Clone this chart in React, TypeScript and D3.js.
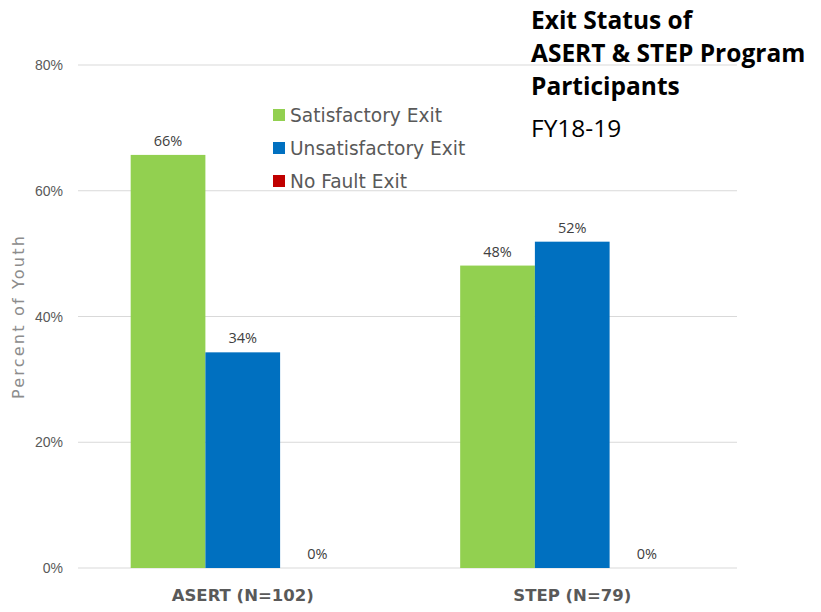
import React from "react";
import * as d3 from "d3";

const categories = ["ASERT (N=102)", "STEP (N=79)"];
const seriesNames = ["Satisfactory Exit", "Unsatisfactory Exit", "No Fault Exit"];
const satisfactory = [0.657, 0.481];
const unsatisfactory = [0.343, 0.519];
const noFault = [0, 0];
const seriesColors = ["#92D050", "#0070C0", "#C00000"];
const yTicks = [0, 0.2, 0.4, 0.6, 0.8];

const W = 821;
const H = 612;
const plot = { left: 78, right: 737, top: 65, bottom: 568 };
const labelFont = "'Open Sans', 'DejaVu Sans', sans-serif";
const wideFont = "'DejaVu Sans', sans-serif";

export default function App() {
  const series = [satisfactory, unsatisfactory, noFault];
  const y = d3.scaleLinear().domain([0, 0.8]).range([plot.bottom, plot.top]);
  const x0 = d3.scaleBand<string>().domain(categories).range([plot.left, plot.right]).padding(0);
  const x1 = d3
    .scaleBand<string>()
    .domain(seriesNames)
    .range([0, x0.bandwidth()])
    .paddingInner(0)
    .paddingOuter(0.705);
  const fmt = d3.format(".0%");

  return (
    <svg
      width={W}
      height={H}
      style={{ position: "absolute", left: 0, top: 0, background: "#fff" }}
    >
      {/* gridlines */}
      {yTicks.map((t) => (
        <line
          key={t}
          x1={plot.left}
          x2={plot.right}
          y1={y(t)}
          y2={y(t)}
          stroke="#d9d9d9"
          strokeWidth={1}
        />
      ))}
      {/* y tick labels */}
      {yTicks.map((t) => (
        <text
          key={"l" + t}
          x={63}
          y={y(t) + 5}
          textAnchor="end"
          fontFamily="'Liberation Sans', Arial, sans-serif"
          fontSize={14}
          fill="#595959"
        >
          {fmt(t)}
        </text>
      ))}
      {/* axis title */}
      <text
        transform={`translate(24,${(plot.top + plot.bottom) / 2}) rotate(-90)`}
        textAnchor="middle"
        fontFamily={wideFont}
        fontSize={16}
        letterSpacing={2.2}
        fill="#8c8c8c"
      >
        Percent of Youth
      </text>
      {/* bars */}
      {categories.map((c, ci) => (
        <g key={c} transform={`translate(${x0(c)},0)`}>
          {seriesNames.map((s, si) => {
            const v = series[si][ci];
            const bx = x1(s)!;
            return (
              <g key={s}>
                <rect
                  x={bx}
                  y={y(v)}
                  width={x1.bandwidth()}
                  height={plot.bottom - y(v)}
                  fill={seriesColors[si]}
                />
                <text
                  x={bx + x1.bandwidth() / 2}
                  y={y(v) - 9}
                  textAnchor="middle"
                  fontFamily={labelFont}
                  fontSize={14.5}
                  fill="#404040"
                >
                  {fmt(v)}
                </text>
              </g>
            );
          })}
        </g>
      ))}
      {/* category labels */}
      {categories.map((c) => (
        <text
          key={"c" + c}
          x={x0(c)! + x0.bandwidth() / 2}
          y={601}
          textAnchor="middle"
          fontFamily={wideFont}
          fontWeight="bold"
          fontSize={16.5}
          fill="#595959"
        >
          {c}
        </text>
      ))}
      {/* legend */}
      {seriesNames.map((s, i) => (
        <g key={"lg" + s} transform={`translate(273,${115 + i * 33})`}>
          <rect x={0} y={-6} width={12} height={12} fill={seriesColors[i]} />
          <text x={17} y={7} fontFamily={wideFont} fontSize={18.6} fill="#595959">
            {s}
          </text>
        </g>
      ))}
      {/* title */}
      <g fontFamily={labelFont} fill="#000">
        <text x={531} y={29} fontSize={24.5} fontWeight="bold">Exit Status of</text>
        <text x={531} y={62} fontSize={24.5} fontWeight="bold">ASERT &amp; STEP Program</text>
        <text x={531} y={95} fontSize={24.5} fontWeight="bold">Participants</text>
        <text x={531} y={137} fontSize={24.5}>FY18-19</text>
      </g>
    </svg>
  );
}
